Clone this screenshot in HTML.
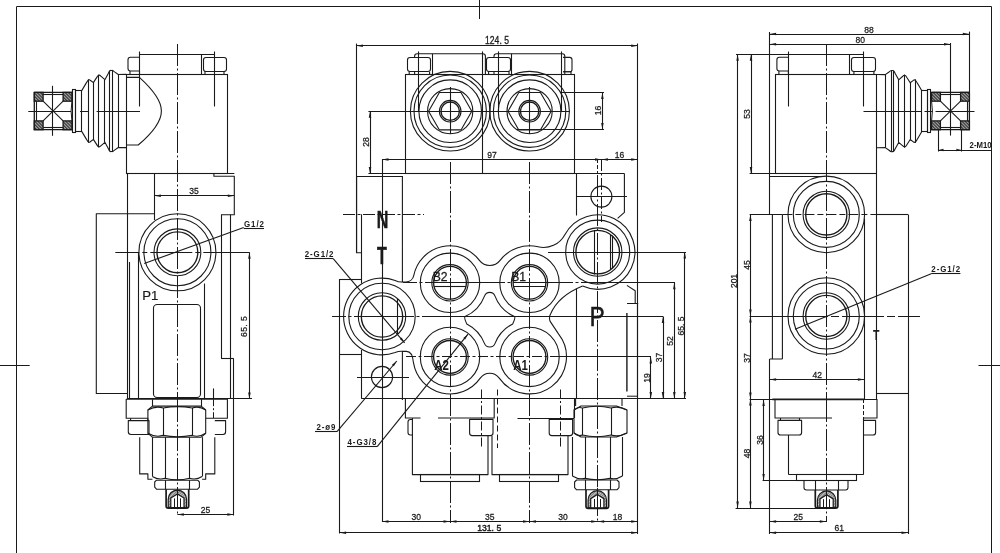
<!DOCTYPE html>
<html><head><meta charset="utf-8"><title>Valve drawing</title>
<style>
html,body{margin:0;padding:0;background:#fff;}
svg{display:block;font-family:"Liberation Sans",sans-serif;will-change:transform;}
</style></head>
<body>
<svg width="1000" height="553" viewBox="0 0 1000 553">
<defs>
<pattern id="hatch" width="2.2" height="2.2" patternUnits="userSpaceOnUse" patternTransform="rotate(-45)">
<rect width="2.2" height="2.2" fill="#999"/><line x1="0" y1="0" x2="0" y2="2.2" stroke="#151515" stroke-width="1.5"/>
</pattern>
<pattern id="hatch2" width="2" height="2" patternUnits="userSpaceOnUse" patternTransform="rotate(45)">
<rect width="2" height="2" fill="#c8c8c8"/><line x1="0" y1="0" x2="0" y2="2" stroke="#333" stroke-width="1.0"/>
</pattern>
</defs>
<rect width="1000" height="553" fill="#fff"/>
<line x1="16.90" y1="6.50" x2="991.40" y2="6.50" stroke="#1a1a1a" stroke-width="1.0"/>
<line x1="16.50" y1="6.40" x2="16.50" y2="553.00" stroke="#1a1a1a" stroke-width="1.0"/>
<line x1="991.50" y1="6.40" x2="991.50" y2="553.00" stroke="#1a1a1a" stroke-width="1.0"/>
<line x1="479.50" y1="0.00" x2="479.50" y2="19.00" stroke="#1a1a1a" stroke-width="1.0"/>
<line x1="0.00" y1="365.50" x2="29.70" y2="365.50" stroke="#1a1a1a" stroke-width="1.0"/>
<line x1="978.50" y1="365.50" x2="1000.00" y2="365.50" stroke="#1a1a1a" stroke-width="1.0"/>
<rect x="126.50" y="74.50" width="101.00" height="99.00" rx="0" ry="0" fill="none" stroke="#1a1a1a" stroke-width="1.1"/>
<line x1="139.50" y1="54.50" x2="214.70" y2="54.50" stroke="#1a1a1a" stroke-width="1.1"/>
<line x1="139.50" y1="51.50" x2="139.50" y2="106.50" stroke="#1a1a1a" stroke-width="1.1"/>
<line x1="214.50" y1="51.50" x2="214.50" y2="106.50" stroke="#1a1a1a" stroke-width="1.1"/>
<line x1="201.50" y1="54.20" x2="201.50" y2="74.50" stroke="#1a1a1a" stroke-width="1.1"/>
<path d="M139.5,57.3 H130.5 Q128.0,57.3 128.0,59.8 V68.5 Q128.0,71 130.5,71 H139.5" fill="none" stroke="#1a1a1a" stroke-width="1.1" stroke-linejoin="round"/>
<path d="M130.0,71 V74.5 M139.5,71 V74.5" fill="none" stroke="#1a1a1a" stroke-width="1.1" stroke-linejoin="round"/>
<rect x="203.50" y="57.50" width="23.00" height="14.00" rx="2.5" ry="2.5" fill="none" stroke="#1a1a1a" stroke-width="1.1"/>
<path d="M205.0,71 V74.5 M224.0,71 V74.5" fill="none" stroke="#1a1a1a" stroke-width="1.1" stroke-linejoin="round"/>
<line x1="177.50" y1="44.00" x2="177.50" y2="400.00" stroke="#1a1a1a" stroke-width="1.0" stroke-dasharray="22 2.5 2 2.5"/>
<path d="M126.2,77.4 H139.4 C150,87 161.4,100 161.4,110.9 C161.4,122 150,135 138.2,145 H126.2" fill="none" stroke="#1a1a1a" stroke-width="1.1" stroke-linejoin="round"/>
<path d="M126.20,74.40 L118.30,74.50 L114.54,71.86 Q112.60,70.00 111.72,70.47 L110.88,70.43 Q110.00,69.90 108.27,73.56 L104.90,79.70 L100.81,76.14 Q98.70,73.80 96.90,77.12 L93.40,82.60 L90.23,80.22 Q88.60,78.50 86.32,82.88 L81.90,90.40 " fill="none" stroke="#1a1a1a" stroke-width="1.1" stroke-linejoin="round"/>
<path d="M126.20,147.60 L118.30,147.50 L114.54,150.14 Q112.60,152.00 111.72,151.53 L110.88,151.57 Q110.00,152.10 108.27,148.44 L104.90,142.30 L100.81,145.86 Q98.70,148.20 96.90,144.88 L93.40,139.40 L90.23,141.78 Q88.60,143.50 86.32,139.12 L81.90,131.60 " fill="none" stroke="#1a1a1a" stroke-width="1.1" stroke-linejoin="round"/>
<line x1="118.50" y1="74.50" x2="118.50" y2="147.50" stroke="#1a1a1a" stroke-width="1.1"/>
<line x1="112.50" y1="70.80" x2="112.50" y2="151.20" stroke="#1a1a1a" stroke-width="1.1"/>
<line x1="109.50" y1="70.80" x2="109.50" y2="151.20" stroke="#1a1a1a" stroke-width="1.1"/>
<line x1="104.50" y1="79.70" x2="104.50" y2="142.30" stroke="#1a1a1a" stroke-width="1.1"/>
<line x1="98.50" y1="74.60" x2="98.50" y2="147.40" stroke="#1a1a1a" stroke-width="1.1"/>
<line x1="93.50" y1="82.60" x2="93.50" y2="139.40" stroke="#1a1a1a" stroke-width="1.1"/>
<line x1="88.50" y1="79.30" x2="88.50" y2="142.70" stroke="#1a1a1a" stroke-width="1.1"/>
<rect x="75.50" y="90.50" width="6.00" height="41.00" rx="0" ry="0" fill="none" stroke="#1a1a1a" stroke-width="1.1"/>
<rect x="72.50" y="89.50" width="3.00" height="43.00" rx="0" ry="0" fill="none" stroke="#1a1a1a" stroke-width="1.1"/>
<path d="M71.9,92.4 H34.3 V129.7 H71.9" fill="none" stroke="#1a1a1a" stroke-width="1.3" stroke-linejoin="round"/>
<path d="M71.9,101.2 Q70.30000000000001,111.05 71.9,120.89999999999999" fill="none" stroke="#1a1a1a" stroke-width="1.0" stroke-linejoin="round"/>
<line x1="36.50" y1="101.20" x2="36.50" y2="120.90" stroke="#1a1a1a" stroke-width="1.1"/>
<rect x="34.30" y="92.40" width="8.80" height="8.80" fill="url(#hatch)" stroke="#1a1a1a" stroke-width="1.3"/>
<rect x="63.10" y="92.40" width="8.80" height="8.80" fill="url(#hatch)" stroke="#1a1a1a" stroke-width="1.3"/>
<rect x="34.30" y="120.90" width="8.80" height="8.80" fill="url(#hatch)" stroke="#1a1a1a" stroke-width="1.3"/>
<rect x="63.10" y="120.90" width="8.80" height="8.80" fill="url(#hatch)" stroke="#1a1a1a" stroke-width="1.3"/>
<line x1="43.10" y1="101.20" x2="63.10" y2="120.90" stroke="#1a1a1a" stroke-width="1.1"/>
<line x1="63.10" y1="101.20" x2="43.10" y2="120.90" stroke="#1a1a1a" stroke-width="1.1"/>
<line x1="43.10" y1="94.50" x2="63.10" y2="94.50" stroke="#1a1a1a" stroke-width="1.1"/>
<line x1="43.10" y1="127.50" x2="63.10" y2="127.50" stroke="#1a1a1a" stroke-width="1.1"/>
<line x1="28.30" y1="111.50" x2="140.00" y2="111.50" stroke="#1a1a1a" stroke-width="1.0" stroke-dasharray="42.7 9 8.3 8.3 100"/>
<line x1="52.50" y1="85.80" x2="52.50" y2="135.80" stroke="#1a1a1a" stroke-width="1.1"/>
<line x1="126.20" y1="173.50" x2="234.30" y2="173.50" stroke="#1a1a1a" stroke-width="1.1"/>
<line x1="127.50" y1="173.70" x2="127.50" y2="399.20" stroke="#1a1a1a" stroke-width="1.1"/>
<line x1="154.50" y1="173.70" x2="154.50" y2="220.00" stroke="#1a1a1a" stroke-width="1.1"/>
<path d="M213.9,173.7 V176.3 H234.3 V214.7 H221.1" fill="none" stroke="#1a1a1a" stroke-width="1.1" stroke-linejoin="round"/>
<line x1="154.40" y1="195.50" x2="234.30" y2="195.50" stroke="#1a1a1a" stroke-width="1.1"/>
<polygon points="154.40,195.70 160.90,194.45 160.90,196.95" fill="#1a1a1a"/>
<polygon points="234.30,195.70 227.80,196.95 227.80,194.45" fill="#1a1a1a"/>
<text transform="translate(194.00 193.80) scale(0.95 1)" font-size="9.0" text-anchor="middle" font-weight="normal" fill="#1a1a1a" stroke="#1a1a1a" stroke-width="0.25">35</text>
<path d="M154.4,213.8 H96.3 V393.5 H127.4" fill="none" stroke="#1a1a1a" stroke-width="1.1" stroke-linejoin="round"/>
<line x1="221.50" y1="214.70" x2="221.50" y2="358.60" stroke="#1a1a1a" stroke-width="1.1"/>
<line x1="221.10" y1="358.50" x2="233.80" y2="358.50" stroke="#1a1a1a" stroke-width="1.1"/>
<line x1="233.50" y1="358.60" x2="233.50" y2="515.50" stroke="#1a1a1a" stroke-width="1.1"/>
<line x1="230.50" y1="214.70" x2="230.50" y2="398.90" stroke="#1a1a1a" stroke-width="1.1"/>
<circle cx="177.40" cy="252.30" r="38.50" fill="none" stroke="#1a1a1a" stroke-width="1.1"/>
<circle cx="177.40" cy="252.30" r="33.50" fill="none" stroke="#1a1a1a" stroke-width="1.1"/>
<circle cx="177.40" cy="252.30" r="23.40" fill="none" stroke="#1a1a1a" stroke-width="1.1"/>
<circle cx="177.40" cy="252.30" r="20.40" fill="none" stroke="#1a1a1a" stroke-width="1.35"/>
<line x1="115.30" y1="252.50" x2="249.50" y2="252.50" stroke="#1a1a1a" stroke-width="1.0" stroke-dasharray="24 3 5 3 42 3 5 3 200"/>
<line x1="138.50" y1="252.30" x2="138.50" y2="399.20" stroke="#1a1a1a" stroke-width="1.1"/>
<line x1="204.50" y1="283.50" x2="204.50" y2="399.20" stroke="#1a1a1a" stroke-width="1.1"/>
<line x1="144.20" y1="263.50" x2="243.70" y2="227.60" stroke="#1a1a1a" stroke-width="1.1"/>
<line x1="243.70" y1="228.50" x2="264.00" y2="228.50" stroke="#1a1a1a" stroke-width="1.1"/>
<text transform="translate(254.40 227.20) scale(0.92 1)" font-size="8.6" text-anchor="middle" font-weight="bold" fill="#1a1a1a" letter-spacing="1.0">G1/2</text>
<text transform="translate(150.20 299.80)" font-size="13.2" text-anchor="middle" font-weight="normal" fill="#1a1a1a" stroke="#1a1a1a" stroke-width="0.2">P1</text>
<line x1="129.50" y1="262.00" x2="129.50" y2="399.20" stroke="#1a1a1a" stroke-width="1.1"/>
<rect x="153.50" y="304.50" width="47.00" height="93.00" rx="3.6" ry="3.6" fill="none" stroke="#1a1a1a" stroke-width="1.1"/>
<line x1="249.50" y1="252.30" x2="249.50" y2="398.90" stroke="#1a1a1a" stroke-width="1.1"/>
<polygon points="249.40,252.30 250.65,258.80 248.15,258.80" fill="#1a1a1a"/>
<polygon points="249.40,398.90 248.15,392.40 250.65,392.40" fill="#1a1a1a"/>
<text transform="translate(247.20 326.40) rotate(-90) scale(0.95 1)" font-size="9.0" text-anchor="middle" font-weight="normal" fill="#1a1a1a" letter-spacing="0.5" stroke="#1a1a1a" stroke-width="0.25">65. 5</text>
<line x1="127.40" y1="398.50" x2="252.00" y2="398.50" stroke="#1a1a1a" stroke-width="1.1"/>
<path d="M147.9,418.2 H126.2 V399.2 H227.4 V418.2 H205.7" fill="none" stroke="#1a1a1a" stroke-width="1.1" stroke-linejoin="round"/>
<line x1="213.50" y1="388.40" x2="213.50" y2="399.20" stroke="#1a1a1a" stroke-width="1.1"/>
<line x1="213.50" y1="399.20" x2="213.50" y2="418.00" stroke="#1a1a1a" stroke-width="1.0" stroke-dasharray="7 2 2 2"/>
<line x1="177.50" y1="400.00" x2="177.50" y2="516.00" stroke="#1a1a1a" stroke-width="1.0" stroke-dasharray="22 2.5 2 2.5"/>
<line x1="177.40" y1="514.50" x2="233.80" y2="514.50" stroke="#1a1a1a" stroke-width="1.1"/>
<polygon points="177.40,514.60 183.90,513.35 183.90,515.85" fill="#1a1a1a"/>
<polygon points="233.80,514.60 227.30,515.85 227.30,513.35" fill="#1a1a1a"/>
<text transform="translate(205.40 513.40) scale(0.95 1)" font-size="9.0" text-anchor="middle" font-weight="normal" fill="#1a1a1a" stroke="#1a1a1a" stroke-width="0.25">25</text>
<path d="M130.6,418.2 V420.6 M147.9,418.2 V420.6 M128.3,420.6 H149 V434.5 H131 Q128.3,434.5 128.3,431.8 Z" fill="none" stroke="#1a1a1a" stroke-width="1.1" stroke-linejoin="round"/>
<path d="M214.8,420.6 H225.6 V431.8 Q225.6,434.5 223,434.5 H214.8" fill="none" stroke="#1a1a1a" stroke-width="1.1" stroke-linejoin="round"/>
<line x1="152.50" y1="399.20" x2="152.50" y2="406.10" stroke="#1a1a1a" stroke-width="1.1"/>
<line x1="201.50" y1="399.20" x2="201.50" y2="406.10" stroke="#1a1a1a" stroke-width="1.1"/>
<path d="M152.4,406.1 H201.2 L205.7,410 V433.3 L201.2,437.2 H152.4 L147.9,433.3 V410 Z" fill="none" stroke="#1a1a1a" stroke-width="1.1" stroke-linejoin="round"/>
<line x1="163.50" y1="408.00" x2="163.50" y2="435.40" stroke="#1a1a1a" stroke-width="1.1"/>
<line x1="192.50" y1="408.00" x2="192.50" y2="435.40" stroke="#1a1a1a" stroke-width="1.1"/>
<path d="M147.9,410 Q155.5,405.6 163.2,408 Q177.4,405.2 192.2,408 Q199.0,405.6 205.7,410" fill="none" stroke="#1a1a1a" stroke-width="1.1" stroke-linejoin="round"/>
<path d="M147.9,433.3 Q155.5,437.7 163.2,435.4 Q177.4,438.2 192.2,435.4 Q199.0,437.7 205.7,433.3" fill="none" stroke="#1a1a1a" stroke-width="1.1" stroke-linejoin="round"/>
<path d="M139.7,437.2 V473.9 H147.9 V479.3 H152.4" fill="none" stroke="#1a1a1a" stroke-width="1.1" stroke-linejoin="round"/>
<path d="M214.8,437.2 V473.9 H205.7 V479.3 H202.1" fill="none" stroke="#1a1a1a" stroke-width="1.1" stroke-linejoin="round"/>
<line x1="152.50" y1="437.20" x2="152.50" y2="476.50" stroke="#1a1a1a" stroke-width="1.1"/>
<line x1="165.50" y1="437.20" x2="165.50" y2="478.20" stroke="#1a1a1a" stroke-width="1.1"/>
<line x1="189.50" y1="437.20" x2="189.50" y2="478.20" stroke="#1a1a1a" stroke-width="1.1"/>
<line x1="202.50" y1="437.20" x2="202.50" y2="476.50" stroke="#1a1a1a" stroke-width="1.1"/>
<path d="M152.4,476.5 Q158.5,480.4 165.0,478.2 Q177.4,481.4 189.5,478.2 Q196.0,480.4 202.1,476.5" fill="none" stroke="#1a1a1a" stroke-width="1.1" stroke-linejoin="round"/>
<path d="M156.5,480.2 H197.6 L199.4,482 V487.2 L197.6,489.2 H156.5 L154.7,487.2 V482 Z" fill="none" stroke="#1a1a1a" stroke-width="1.1" stroke-linejoin="round"/>
<line x1="165.50" y1="480.20" x2="165.50" y2="489.20" stroke="#1a1a1a" stroke-width="1.1"/>
<line x1="189.50" y1="480.20" x2="189.50" y2="489.20" stroke="#1a1a1a" stroke-width="1.1"/>
<path d="M166.1,489.2 V506.0 Q166.1,508.2 168.29999999999998,508.2 H186.50000000000003 Q188.70000000000002,508.2 188.70000000000002,506.0 V489.2" fill="none" stroke="#1a1a1a" stroke-width="1.7" stroke-linejoin="round"/>
<path d="M168.20000000000002,507.4 V499.29999999999995 A9.2,9.2 0 0 1 186.6,499.29999999999995 V507.4 Z" fill="url(#hatch2)" stroke="#1a1a1a" stroke-width="1.2"/>
<path d="M170.8,507.59999999999997 V498.09999999999997 L177.4,493.9 L184.0,498.09999999999997 V507.59999999999997 Z" fill="#fff" stroke="#1a1a1a" stroke-width="1.2"/>
<line x1="174.50" y1="498.40" x2="174.50" y2="507.40" stroke="#1a1a1a" stroke-width="1.0"/>
<line x1="180.50" y1="498.40" x2="180.50" y2="507.40" stroke="#1a1a1a" stroke-width="1.0"/>
<line x1="177.50" y1="487.20" x2="177.50" y2="509.20" stroke="#1a1a1a" stroke-width="1.0"/>
<rect x="775.50" y="74.50" width="101.00" height="99.00" rx="0" ry="0" fill="none" stroke="#1a1a1a" stroke-width="1.1"/>
<line x1="788.40" y1="54.50" x2="863.60" y2="54.50" stroke="#1a1a1a" stroke-width="1.1"/>
<line x1="788.50" y1="51.50" x2="788.50" y2="106.50" stroke="#1a1a1a" stroke-width="1.1"/>
<line x1="863.50" y1="51.50" x2="863.50" y2="106.50" stroke="#1a1a1a" stroke-width="1.1"/>
<line x1="849.50" y1="54.20" x2="849.50" y2="74.50" stroke="#1a1a1a" stroke-width="1.1"/>
<path d="M788.4,57.3 H779.4 Q776.9,57.3 776.9,59.8 V68.5 Q776.9,71 779.4,71 H788.4" fill="none" stroke="#1a1a1a" stroke-width="1.1" stroke-linejoin="round"/>
<path d="M778.9,71 V74.5 M788.4,71 V74.5" fill="none" stroke="#1a1a1a" stroke-width="1.1" stroke-linejoin="round"/>
<rect x="851.50" y="57.50" width="24.00" height="14.00" rx="2.5" ry="2.5" fill="none" stroke="#1a1a1a" stroke-width="1.1"/>
<path d="M853.9,71 V74.5 M873.9,71 V74.5" fill="none" stroke="#1a1a1a" stroke-width="1.1" stroke-linejoin="round"/>
<line x1="826.50" y1="44.00" x2="826.50" y2="400.00" stroke="#1a1a1a" stroke-width="1.0" stroke-dasharray="22 2.5 2 2.5"/>
<path d="M876.90,74.50 L885.30,74.60 L889.06,71.96 Q891.00,70.10 891.88,70.57 L892.72,70.53 Q893.60,70.00 895.33,73.66 L898.70,79.80 L902.79,76.24 Q904.90,73.90 906.70,77.22 L910.20,82.70 L913.37,80.32 Q915.00,78.60 917.28,82.98 L921.70,90.50 " fill="none" stroke="#1a1a1a" stroke-width="1.1" stroke-linejoin="round"/>
<path d="M876.90,147.70 L885.30,147.60 L889.06,150.24 Q891.00,152.10 891.88,151.63 L892.72,151.67 Q893.60,152.20 895.33,148.54 L898.70,142.40 L902.79,145.96 Q904.90,148.30 906.70,144.98 L910.20,139.50 L913.37,141.88 Q915.00,143.60 917.28,139.22 L921.70,131.70 " fill="none" stroke="#1a1a1a" stroke-width="1.1" stroke-linejoin="round"/>
<line x1="885.50" y1="74.50" x2="885.50" y2="147.70" stroke="#1a1a1a" stroke-width="1.1"/>
<line x1="891.50" y1="70.80" x2="891.50" y2="151.40" stroke="#1a1a1a" stroke-width="1.1"/>
<line x1="893.50" y1="70.80" x2="893.50" y2="151.40" stroke="#1a1a1a" stroke-width="1.1"/>
<line x1="898.50" y1="79.70" x2="898.50" y2="142.50" stroke="#1a1a1a" stroke-width="1.1"/>
<line x1="904.50" y1="74.60" x2="904.50" y2="147.60" stroke="#1a1a1a" stroke-width="1.1"/>
<line x1="910.50" y1="82.60" x2="910.50" y2="139.60" stroke="#1a1a1a" stroke-width="1.1"/>
<line x1="915.50" y1="79.30" x2="915.50" y2="142.90" stroke="#1a1a1a" stroke-width="1.1"/>
<rect x="921.50" y="90.50" width="6.00" height="41.00" rx="0" ry="0" fill="none" stroke="#1a1a1a" stroke-width="1.1"/>
<rect x="927.50" y="89.50" width="3.00" height="43.00" rx="0" ry="0" fill="none" stroke="#1a1a1a" stroke-width="1.1"/>
<path d="M931.6,92.4 H969.4 V129.7 H931.6" fill="none" stroke="#1a1a1a" stroke-width="1.3" stroke-linejoin="round"/>
<path d="M931.6,101.2 Q933.2,111.05 931.6,120.89999999999999" fill="none" stroke="#1a1a1a" stroke-width="1.0" stroke-linejoin="round"/>
<line x1="967.50" y1="101.20" x2="967.50" y2="120.90" stroke="#1a1a1a" stroke-width="1.1"/>
<rect x="931.60" y="92.40" width="8.80" height="8.80" fill="url(#hatch)" stroke="#1a1a1a" stroke-width="1.3"/>
<rect x="960.60" y="92.40" width="8.80" height="8.80" fill="url(#hatch)" stroke="#1a1a1a" stroke-width="1.3"/>
<rect x="931.60" y="120.90" width="8.80" height="8.80" fill="url(#hatch)" stroke="#1a1a1a" stroke-width="1.3"/>
<rect x="960.60" y="120.90" width="8.80" height="8.80" fill="url(#hatch)" stroke="#1a1a1a" stroke-width="1.3"/>
<line x1="940.40" y1="101.20" x2="960.60" y2="120.90" stroke="#1a1a1a" stroke-width="1.1"/>
<line x1="960.60" y1="101.20" x2="940.40" y2="120.90" stroke="#1a1a1a" stroke-width="1.1"/>
<line x1="940.40" y1="94.50" x2="960.60" y2="94.50" stroke="#1a1a1a" stroke-width="1.1"/>
<line x1="940.40" y1="127.50" x2="960.60" y2="127.50" stroke="#1a1a1a" stroke-width="1.1"/>
<line x1="863.50" y1="111.50" x2="974.50" y2="111.50" stroke="#1a1a1a" stroke-width="1.0" stroke-dasharray="58 3 8 3 100"/>
<line x1="769.50" y1="32.00" x2="769.50" y2="214.40" stroke="#1a1a1a" stroke-width="1.1"/>
<line x1="769.60" y1="34.50" x2="969.30" y2="34.50" stroke="#1a1a1a" stroke-width="1.1"/>
<polygon points="769.60,34.00 776.10,32.75 776.10,35.25" fill="#1a1a1a"/>
<polygon points="969.30,34.00 962.80,35.25 962.80,32.75" fill="#1a1a1a"/>
<line x1="769.60" y1="44.50" x2="950.50" y2="44.50" stroke="#1a1a1a" stroke-width="1.1"/>
<polygon points="769.60,44.20 776.10,42.95 776.10,45.45" fill="#1a1a1a"/>
<polygon points="950.50,44.20 944.00,45.45 944.00,42.95" fill="#1a1a1a"/>
<text transform="translate(869.00 32.80) scale(0.95 1)" font-size="9.0" text-anchor="middle" font-weight="normal" fill="#1a1a1a" stroke="#1a1a1a" stroke-width="0.25">88</text>
<text transform="translate(860.30 43.20) scale(0.95 1)" font-size="9.0" text-anchor="middle" font-weight="normal" fill="#1a1a1a" stroke="#1a1a1a" stroke-width="0.25">80</text>
<line x1="969.50" y1="31.60" x2="969.50" y2="92.60" stroke="#1a1a1a" stroke-width="1.1"/>
<line x1="950.50" y1="43.00" x2="950.50" y2="135.60" stroke="#1a1a1a" stroke-width="1.1"/>
<line x1="938.50" y1="129.70" x2="938.50" y2="151.50" stroke="#1a1a1a" stroke-width="1.1"/>
<line x1="961.50" y1="129.70" x2="961.50" y2="151.50" stroke="#1a1a1a" stroke-width="1.1"/>
<line x1="938.50" y1="150.50" x2="991.40" y2="150.50" stroke="#1a1a1a" stroke-width="1.1"/>
<polygon points="938.50,150.00 943.50,148.75 943.50,151.25" fill="#1a1a1a"/>
<polygon points="961.40,150.00 956.40,151.25 956.40,148.75" fill="#1a1a1a"/>
<text transform="translate(969.60 148.40) scale(0.9 1)" font-size="8.6" text-anchor="start" font-weight="bold" fill="#1a1a1a">2-M10</text>
<line x1="736.00" y1="54.50" x2="788.40" y2="54.50" stroke="#1a1a1a" stroke-width="1.1"/>
<line x1="737.50" y1="54.20" x2="737.50" y2="508.00" stroke="#1a1a1a" stroke-width="1.1"/>
<polygon points="737.60,54.20 738.85,60.70 736.35,60.70" fill="#1a1a1a"/>
<polygon points="737.60,508.00 736.35,501.50 738.85,501.50" fill="#1a1a1a"/>
<line x1="751.50" y1="54.20" x2="751.50" y2="173.50" stroke="#1a1a1a" stroke-width="1.1"/>
<polygon points="751.00,54.20 752.25,60.70 749.75,60.70" fill="#1a1a1a"/>
<polygon points="751.00,173.50 749.75,167.00 752.25,167.00" fill="#1a1a1a"/>
<text transform="translate(750.00 114.00) rotate(-90) scale(0.95 1)" font-size="9.0" text-anchor="middle" font-weight="normal" fill="#1a1a1a" stroke="#1a1a1a" stroke-width="0.25">53</text>
<text transform="translate(737.00 281.00) rotate(-90) scale(0.95 1)" font-size="9.0" text-anchor="middle" font-weight="normal" fill="#1a1a1a" stroke="#1a1a1a" stroke-width="0.25">201</text>
<line x1="749.60" y1="173.50" x2="876.30" y2="173.50" stroke="#1a1a1a" stroke-width="1.1"/>
<line x1="750.50" y1="214.40" x2="750.50" y2="508.00" stroke="#1a1a1a" stroke-width="1.1"/>
<polygon points="750.40,214.40 751.65,220.90 749.15,220.90" fill="#1a1a1a"/>
<polygon points="750.40,316.00 749.15,309.50 751.65,309.50" fill="#1a1a1a"/>
<polygon points="750.40,316.00 751.65,322.50 749.15,322.50" fill="#1a1a1a"/>
<polygon points="750.40,399.00 749.15,392.50 751.65,392.50" fill="#1a1a1a"/>
<polygon points="750.40,399.00 751.65,405.50 749.15,405.50" fill="#1a1a1a"/>
<polygon points="750.40,508.00 749.15,501.50 751.65,501.50" fill="#1a1a1a"/>
<text transform="translate(749.60 265.00) rotate(-90) scale(0.95 1)" font-size="9.0" text-anchor="middle" font-weight="normal" fill="#1a1a1a" stroke="#1a1a1a" stroke-width="0.25">45</text>
<text transform="translate(749.60 358.00) rotate(-90) scale(0.95 1)" font-size="9.0" text-anchor="middle" font-weight="normal" fill="#1a1a1a" stroke="#1a1a1a" stroke-width="0.25">37</text>
<text transform="translate(749.60 453.60) rotate(-90) scale(0.95 1)" font-size="9.0" text-anchor="middle" font-weight="normal" fill="#1a1a1a" stroke="#1a1a1a" stroke-width="0.25">48</text>
<line x1="763.50" y1="399.60" x2="763.50" y2="480.60" stroke="#1a1a1a" stroke-width="1.1"/>
<polygon points="763.60,399.60 764.85,406.10 762.35,406.10" fill="#1a1a1a"/>
<polygon points="763.60,480.60 762.35,474.10 764.85,474.10" fill="#1a1a1a"/>
<text transform="translate(763.00 440.00) rotate(-90) scale(0.95 1)" font-size="9.0" text-anchor="middle" font-weight="normal" fill="#1a1a1a" stroke="#1a1a1a" stroke-width="0.25">36</text>
<line x1="762.60" y1="480.50" x2="796.60" y2="480.50" stroke="#1a1a1a" stroke-width="1.1"/>
<line x1="735.60" y1="508.50" x2="826.30" y2="508.50" stroke="#1a1a1a" stroke-width="1.1"/>
<line x1="769.60" y1="176.50" x2="822.00" y2="176.50" stroke="#1a1a1a" stroke-width="1.1"/>
<line x1="876.50" y1="173.50" x2="876.50" y2="399.00" stroke="#1a1a1a" stroke-width="1.1"/>
<circle cx="826.30" cy="214.40" r="38.30" fill="none" stroke="#1a1a1a" stroke-width="1.1"/>
<circle cx="826.30" cy="214.40" r="33.00" fill="none" stroke="#1a1a1a" stroke-width="1.1"/>
<circle cx="826.30" cy="214.40" r="23.20" fill="none" stroke="#1a1a1a" stroke-width="1.1"/>
<circle cx="826.30" cy="214.40" r="20.60" fill="none" stroke="#1a1a1a" stroke-width="1.35"/>
<circle cx="826.30" cy="316.00" r="38.30" fill="none" stroke="#1a1a1a" stroke-width="1.1"/>
<circle cx="826.30" cy="316.00" r="33.00" fill="none" stroke="#1a1a1a" stroke-width="1.1"/>
<circle cx="826.30" cy="316.00" r="23.20" fill="none" stroke="#1a1a1a" stroke-width="1.1"/>
<circle cx="826.30" cy="316.00" r="20.60" fill="none" stroke="#1a1a1a" stroke-width="1.35"/>
<line x1="749.60" y1="214.50" x2="782.40" y2="214.50" stroke="#1a1a1a" stroke-width="1.1"/>
<line x1="782.40" y1="214.50" x2="876.00" y2="214.50" stroke="#1a1a1a" stroke-width="1.0" stroke-dasharray="10 3 6 3"/>
<line x1="876.00" y1="214.50" x2="908.00" y2="214.50" stroke="#1a1a1a" stroke-width="1.1"/>
<line x1="749.60" y1="316.50" x2="788.00" y2="316.50" stroke="#1a1a1a" stroke-width="1.1"/>
<line x1="788.00" y1="316.50" x2="920.00" y2="316.50" stroke="#1a1a1a" stroke-width="1.0" stroke-dasharray="40 3 8 3 42 3 8 3 30 3 8 3"/>
<path d="M772.4,214.4 V359 M782.4,214.4 V359 M769.6,359 H782.4" fill="none" stroke="#1a1a1a" stroke-width="1.1" stroke-linejoin="round"/>
<line x1="769.50" y1="359.00" x2="769.50" y2="534.00" stroke="#1a1a1a" stroke-width="1.1"/>
<line x1="864.50" y1="218.50" x2="864.50" y2="399.00" stroke="#1a1a1a" stroke-width="1.1"/>
<line x1="908.50" y1="214.40" x2="908.50" y2="534.00" stroke="#1a1a1a" stroke-width="1.1"/>
<line x1="876.00" y1="393.50" x2="908.00" y2="393.50" stroke="#1a1a1a" stroke-width="1.1"/>
<line x1="769.60" y1="379.50" x2="864.40" y2="379.50" stroke="#1a1a1a" stroke-width="1.1"/>
<polygon points="769.60,379.60 776.10,378.35 776.10,380.85" fill="#1a1a1a"/>
<polygon points="864.40,379.60 857.90,380.85 857.90,378.35" fill="#1a1a1a"/>
<text transform="translate(817.20 378.00) scale(0.95 1)" font-size="9.0" text-anchor="middle" font-weight="normal" fill="#1a1a1a" stroke="#1a1a1a" stroke-width="0.25">42</text>
<text transform="translate(876.20 340.20) scale(0.75 1)" font-size="14" text-anchor="middle" font-weight="bold" fill="#1a1a1a">T</text>
<line x1="795.00" y1="329.20" x2="931.20" y2="273.80" stroke="#1a1a1a" stroke-width="1.1"/>
<line x1="931.20" y1="273.50" x2="960.40" y2="273.50" stroke="#1a1a1a" stroke-width="1.1"/>
<text transform="translate(946.20 272.40) scale(0.92 1)" font-size="8.6" text-anchor="middle" font-weight="bold" fill="#1a1a1a" letter-spacing="1.0">2-G1/2</text>
<line x1="749.60" y1="399.50" x2="877.00" y2="399.50" stroke="#1a1a1a" stroke-width="1.1"/>
<line x1="772.40" y1="399.30" x2="864.40" y2="399.30" stroke="#1a1a1a" stroke-width="1.7"/>
<path d="M775,399 V418 H832 M864,418 H877 V399" fill="none" stroke="#1a1a1a" stroke-width="1.1" stroke-linejoin="round"/>
<line x1="863.50" y1="399.00" x2="863.50" y2="418.00" stroke="#1a1a1a" stroke-width="1.0" stroke-dasharray="4 2"/>
<line x1="863.50" y1="418.00" x2="863.50" y2="474.60" stroke="#1a1a1a" stroke-width="1.1"/>
<line x1="788.50" y1="435.00" x2="788.50" y2="474.60" stroke="#1a1a1a" stroke-width="1.1"/>
<line x1="788.60" y1="474.50" x2="863.60" y2="474.50" stroke="#1a1a1a" stroke-width="1.1"/>
<path d="M780.5,418 V420.4 M799.5,418 V420.4 M778,420.4 H801.6 V432.4 Q801.6,435 799,435 H780.6 Q778,435 778,432.4 Z" fill="none" stroke="#1a1a1a" stroke-width="1.1" stroke-linejoin="round"/>
<path d="M864,420.4 H875.6 V432.4 Q875.6,435 873,435 H864" fill="none" stroke="#1a1a1a" stroke-width="1.1" stroke-linejoin="round"/>
<rect x="796.50" y="474.50" width="60.00" height="6.00" rx="0" ry="0" fill="none" stroke="#1a1a1a" stroke-width="1.1"/>
<path d="M804,480.6 V487.5 Q804,490 806.5,490 H845.5 Q848,490 848,487.5 V480.6" fill="none" stroke="#1a1a1a" stroke-width="1.1" stroke-linejoin="round"/>
<line x1="815.50" y1="480.60" x2="815.50" y2="490.00" stroke="#1a1a1a" stroke-width="1.1"/>
<line x1="838.50" y1="480.60" x2="838.50" y2="490.00" stroke="#1a1a1a" stroke-width="1.1"/>
<path d="M815.3,490 V506.0 Q815.3,508.2 817.5,508.2 H835.6999999999998 Q837.8999999999999,508.2 837.8999999999999,506.0 V490" fill="none" stroke="#1a1a1a" stroke-width="1.7" stroke-linejoin="round"/>
<path d="M817.3999999999999,507.4 V500.09999999999997 A9.2,9.2 0 0 1 835.8,500.09999999999997 V507.4 Z" fill="url(#hatch2)" stroke="#1a1a1a" stroke-width="1.2"/>
<path d="M819.9999999999999,507.59999999999997 V498.9 L826.5999999999999,494.7 L833.1999999999999,498.9 V507.59999999999997 Z" fill="#fff" stroke="#1a1a1a" stroke-width="1.2"/>
<line x1="823.50" y1="499.20" x2="823.50" y2="507.40" stroke="#1a1a1a" stroke-width="1.0"/>
<line x1="829.50" y1="499.20" x2="829.50" y2="507.40" stroke="#1a1a1a" stroke-width="1.0"/>
<line x1="826.50" y1="488.00" x2="826.50" y2="509.20" stroke="#1a1a1a" stroke-width="1.0"/>
<line x1="826.50" y1="400.00" x2="826.50" y2="522.00" stroke="#1a1a1a" stroke-width="1.0" stroke-dasharray="22 2.5 2 2.5"/>
<line x1="769.60" y1="521.50" x2="826.30" y2="521.50" stroke="#1a1a1a" stroke-width="1.1"/>
<polygon points="769.60,521.40 776.10,520.15 776.10,522.65" fill="#1a1a1a"/>
<polygon points="826.30,521.40 819.80,522.65 819.80,520.15" fill="#1a1a1a"/>
<text transform="translate(798.30 520.00) scale(0.95 1)" font-size="9.0" text-anchor="middle" font-weight="normal" fill="#1a1a1a" stroke="#1a1a1a" stroke-width="0.25">25</text>
<line x1="769.60" y1="532.50" x2="908.00" y2="532.50" stroke="#1a1a1a" stroke-width="1.1"/>
<polygon points="769.60,532.80 776.10,531.55 776.10,534.05" fill="#1a1a1a"/>
<polygon points="908.00,532.80 901.50,534.05 901.50,531.55" fill="#1a1a1a"/>
<text transform="translate(839.30 531.00) scale(0.95 1)" font-size="9.0" text-anchor="middle" font-weight="normal" fill="#1a1a1a" stroke="#1a1a1a" stroke-width="0.25">61</text>
<line x1="356.40" y1="45.50" x2="637.70" y2="45.50" stroke="#1a1a1a" stroke-width="1.1"/>
<polygon points="356.40,45.70 362.90,44.45 362.90,46.95" fill="#1a1a1a"/>
<polygon points="637.70,45.70 631.20,46.95 631.20,44.45" fill="#1a1a1a"/>
<text transform="translate(497.00 44.00) scale(0.86 1)" font-size="10" text-anchor="middle" font-weight="normal" fill="#1a1a1a" stroke="#1a1a1a" stroke-width="0.3">124. 5</text>
<line x1="356.50" y1="43.60" x2="356.50" y2="252.80" stroke="#1a1a1a" stroke-width="1.1"/>
<line x1="637.50" y1="43.60" x2="637.50" y2="534.00" stroke="#1a1a1a" stroke-width="1.1"/>
<path d="M414.6,74.2 V56.3 Q414.6,53.8 417.1,53.8 H482.9 Q485.4,53.8 485.4,56.3 V74.2" fill="none" stroke="#1a1a1a" stroke-width="1.1" stroke-linejoin="round"/>
<line x1="432.50" y1="53.80" x2="432.50" y2="74.20" stroke="#1a1a1a" stroke-width="1.1"/>
<rect x="407.50" y="57.50" width="23.00" height="14.00" rx="2.5" ry="2.5" fill="#fff" stroke="#1a1a1a" stroke-width="1.1"/>
<path d="M409.2,71.8 V74.2 M429.6,71.8 V74.2" fill="none" stroke="#1a1a1a" stroke-width="1.1" stroke-linejoin="round"/>
<path d="M494.0,74.2 V56.3 Q494.0,53.8 496.5,53.8 H562.3 Q564.8,53.8 564.8,56.3 V74.2" fill="none" stroke="#1a1a1a" stroke-width="1.1" stroke-linejoin="round"/>
<line x1="511.50" y1="53.80" x2="511.50" y2="74.20" stroke="#1a1a1a" stroke-width="1.1"/>
<rect x="486.50" y="57.50" width="24.00" height="14.00" rx="2.5" ry="2.5" fill="#fff" stroke="#1a1a1a" stroke-width="1.1"/>
<path d="M488.6,71.8 V74.2 M509.0,71.8 V74.2" fill="none" stroke="#1a1a1a" stroke-width="1.1" stroke-linejoin="round"/>
<path d="M563,57.4 H569.6 Q572,57.4 572,59.8 V69.4 Q572,71.8 569.6,71.8 H563" fill="none" stroke="#1a1a1a" stroke-width="1.1" stroke-linejoin="round"/>
<path d="M563,71.8 H571 V74.2" fill="none" stroke="#1a1a1a" stroke-width="1.1" stroke-linejoin="round"/>
<line x1="418.50" y1="51.40" x2="418.50" y2="111.20" stroke="#1a1a1a" stroke-width="1.1"/>
<line x1="482.50" y1="51.40" x2="482.50" y2="173.40" stroke="#1a1a1a" stroke-width="1.1"/>
<line x1="498.50" y1="51.40" x2="498.50" y2="111.20" stroke="#1a1a1a" stroke-width="1.1"/>
<line x1="561.50" y1="51.40" x2="561.50" y2="111.20" stroke="#1a1a1a" stroke-width="1.1"/>
<rect x="405.50" y="74.50" width="169.00" height="99.00" rx="0" ry="0" fill="none" stroke="#1a1a1a" stroke-width="1.1"/>
<circle cx="450.20" cy="111.20" r="39.80" fill="none" stroke="#1a1a1a" stroke-width="1.1"/>
<circle cx="450.20" cy="111.20" r="36.20" fill="none" stroke="#1a1a1a" stroke-width="1.1"/>
<circle cx="450.20" cy="111.20" r="31.30" fill="none" stroke="#1a1a1a" stroke-width="1.1"/>
<circle cx="450.20" cy="111.20" r="22.60" fill="none" stroke="#1a1a1a" stroke-width="1.1"/>
<circle cx="450.20" cy="111.20" r="10.80" fill="none" stroke="#1a1a1a" stroke-width="1.1"/>
<circle cx="450.20" cy="111.20" r="9.20" fill="none" stroke="#1a1a1a" stroke-width="1.4"/>
<path d="M471.80,111.20 L461.00,129.91 L439.40,129.91 L428.60,111.20 L439.40,92.49 L461.00,92.49 Z" fill="none" stroke="#1a1a1a" stroke-width="1.1" stroke-linejoin="round"/>
<line x1="450.50" y1="87.00" x2="450.50" y2="134.00" stroke="#1a1a1a" stroke-width="1.1"/>
<circle cx="529.60" cy="111.20" r="39.80" fill="none" stroke="#1a1a1a" stroke-width="1.1"/>
<circle cx="529.60" cy="111.20" r="36.20" fill="none" stroke="#1a1a1a" stroke-width="1.1"/>
<circle cx="529.60" cy="111.20" r="31.30" fill="none" stroke="#1a1a1a" stroke-width="1.1"/>
<circle cx="529.60" cy="111.20" r="22.60" fill="none" stroke="#1a1a1a" stroke-width="1.1"/>
<circle cx="529.60" cy="111.20" r="10.80" fill="none" stroke="#1a1a1a" stroke-width="1.1"/>
<circle cx="529.60" cy="111.20" r="9.20" fill="none" stroke="#1a1a1a" stroke-width="1.4"/>
<path d="M551.20,111.20 L540.40,129.91 L518.80,129.91 L508.00,111.20 L518.80,92.49 L540.40,92.49 Z" fill="none" stroke="#1a1a1a" stroke-width="1.1" stroke-linejoin="round"/>
<line x1="529.50" y1="87.00" x2="529.50" y2="134.00" stroke="#1a1a1a" stroke-width="1.1"/>
<line x1="368.40" y1="111.50" x2="569.50" y2="111.50" stroke="#1a1a1a" stroke-width="1.1"/>
<line x1="370.50" y1="111.20" x2="370.50" y2="173.40" stroke="#1a1a1a" stroke-width="1.1"/>
<polygon points="370.00,111.20 371.25,117.70 368.75,117.70" fill="#1a1a1a"/>
<polygon points="370.00,173.40 368.75,166.90 371.25,166.90" fill="#1a1a1a"/>
<text transform="translate(369.20 142.00) rotate(-90) scale(0.95 1)" font-size="9.0" text-anchor="middle" font-weight="normal" fill="#1a1a1a" stroke="#1a1a1a" stroke-width="0.25">28</text>
<line x1="368.40" y1="173.50" x2="624.40" y2="173.50" stroke="#1a1a1a" stroke-width="1.1"/>
<line x1="561.40" y1="92.50" x2="604.00" y2="92.50" stroke="#1a1a1a" stroke-width="1.1"/>
<line x1="516.00" y1="129.50" x2="604.00" y2="129.50" stroke="#1a1a1a" stroke-width="1.1"/>
<line x1="602.50" y1="92.40" x2="602.50" y2="129.40" stroke="#1a1a1a" stroke-width="1.1"/>
<polygon points="602.40,92.40 603.65,98.90 601.15,98.90" fill="#1a1a1a"/>
<polygon points="602.40,129.40 601.15,122.90 603.65,122.90" fill="#1a1a1a"/>
<text transform="translate(601.40 110.50) rotate(-90) scale(0.95 1)" font-size="9.0" text-anchor="middle" font-weight="normal" fill="#1a1a1a" stroke="#1a1a1a" stroke-width="0.25">16</text>
<line x1="382.00" y1="159.50" x2="637.70" y2="159.50" stroke="#1a1a1a" stroke-width="1.1"/>
<polygon points="382.00,159.60 388.50,158.35 388.50,160.85" fill="#1a1a1a"/>
<polygon points="601.50,159.60 595.00,160.85 595.00,158.35" fill="#1a1a1a"/>
<polygon points="601.50,159.60 608.00,158.35 608.00,160.85" fill="#1a1a1a"/>
<polygon points="637.70,159.60 631.20,160.85 631.20,158.35" fill="#1a1a1a"/>
<text transform="translate(492.00 158.40) scale(0.95 1)" font-size="9.0" text-anchor="middle" font-weight="normal" fill="#1a1a1a" stroke="#1a1a1a" stroke-width="0.25">97</text>
<text transform="translate(619.60 158.40) scale(0.95 1)" font-size="9.0" text-anchor="middle" font-weight="normal" fill="#1a1a1a" stroke="#1a1a1a" stroke-width="0.25">16</text>
<line x1="382.50" y1="159.00" x2="382.50" y2="522.00" stroke="#1a1a1a" stroke-width="1.1"/>
<line x1="597.50" y1="159.00" x2="597.50" y2="173.40" stroke="#1a1a1a" stroke-width="1.0" stroke-dasharray="4 2"/>
<line x1="450.50" y1="162.00" x2="450.50" y2="523.00" stroke="#1a1a1a" stroke-width="1.0" stroke-dasharray="22 2.5 2 2.5"/>
<line x1="529.50" y1="162.00" x2="529.50" y2="523.00" stroke="#1a1a1a" stroke-width="1.0" stroke-dasharray="22 2.5 2 2.5"/>
<line x1="597.50" y1="175.00" x2="597.50" y2="523.00" stroke="#1a1a1a" stroke-width="1.0" stroke-dasharray="22 2.5 2 2.5"/>
<line x1="601.50" y1="159.00" x2="601.50" y2="222.00" stroke="#1a1a1a" stroke-width="1.0" stroke-dasharray="12 2.5 2 2.5"/>
<line x1="576.50" y1="173.40" x2="576.50" y2="215.50" stroke="#1a1a1a" stroke-width="1.1"/>
<path d="M624.4,173.4 V212.3 L617.6,218.3" fill="none" stroke="#1a1a1a" stroke-width="1.1" stroke-linejoin="round"/>
<circle cx="601.40" cy="196.60" r="10.50" fill="none" stroke="#1a1a1a" stroke-width="1.1"/>
<line x1="576.70" y1="196.50" x2="627.00" y2="196.50" stroke="#1a1a1a" stroke-width="1.1"/>
<line x1="356.50" y1="176.50" x2="402.40" y2="176.50" stroke="#1a1a1a" stroke-width="1.1"/>
<path d="M356.6,176 V252.8 H361.2" fill="none" stroke="#1a1a1a" stroke-width="1.1" stroke-linejoin="round"/>
<line x1="361.50" y1="214.30" x2="361.50" y2="283.50" stroke="#1a1a1a" stroke-width="1.1"/>
<line x1="361.50" y1="350.00" x2="361.50" y2="398.40" stroke="#1a1a1a" stroke-width="1.1"/>
<line x1="339.60" y1="279.50" x2="361.20" y2="279.50" stroke="#1a1a1a" stroke-width="1.1"/>
<line x1="339.60" y1="354.50" x2="361.20" y2="354.50" stroke="#1a1a1a" stroke-width="1.1"/>
<line x1="339.50" y1="279.00" x2="339.50" y2="533.50" stroke="#1a1a1a" stroke-width="1.1"/>
<line x1="343.00" y1="214.50" x2="424.00" y2="214.50" stroke="#1a1a1a" stroke-width="1.0" stroke-dasharray="12 2.5 3 2.5"/>
<text transform="translate(382.60 228.30) scale(0.68 1)" font-size="23.6" text-anchor="middle" font-weight="bold" fill="#1a1a1a" stroke="#1a1a1a" stroke-width="0.5">N</text>
<text transform="translate(381.80 264.40) scale(0.68 1)" font-size="23.6" text-anchor="middle" font-weight="bold" fill="#1a1a1a" stroke="#1a1a1a" stroke-width="0.5">T</text>
<text transform="translate(319.60 257.20) scale(0.92 1)" font-size="8.6" text-anchor="middle" font-weight="bold" fill="#1a1a1a" letter-spacing="1.0">2-G1/2</text>
<line x1="305.00" y1="258.50" x2="333.20" y2="258.50" stroke="#1a1a1a" stroke-width="1.1"/>
<line x1="333.20" y1="258.60" x2="404.60" y2="342.80" stroke="#1a1a1a" stroke-width="1.1"/>
<polygon points="404.60,342.80 399.81,338.99 401.64,337.44" fill="#1a1a1a"/>
<path d="M402.4,282 Q399,282.4 395.13,280.42 A38.4,38.4 0 1 0 395.13,352.58 Q399,351 402.4,351.3" fill="none" stroke="#1a1a1a" stroke-width="1.1" stroke-linejoin="round"/>
<circle cx="382.00" cy="316.50" r="33.20" fill="none" stroke="#1a1a1a" stroke-width="1.1"/>
<circle cx="382.00" cy="316.50" r="23.70" fill="none" stroke="#1a1a1a" stroke-width="1.1"/>
<circle cx="382.00" cy="316.50" r="20.70" fill="none" stroke="#1a1a1a" stroke-width="1.35"/>
<line x1="397.50" y1="299.00" x2="397.50" y2="334.40" stroke="#1a1a1a" stroke-width="1.1"/>
<line x1="332.00" y1="316.50" x2="425.00" y2="316.50" stroke="#1a1a1a" stroke-width="1.0" stroke-dasharray="14 2.5 3 2.5 60 2.5 3 2.5"/>
<line x1="425.00" y1="316.50" x2="663.00" y2="316.50" stroke="#1a1a1a" stroke-width="1.1"/>
<circle cx="597.70" cy="252.10" r="32.00" fill="none" stroke="#1a1a1a" stroke-width="1.1"/>
<circle cx="597.70" cy="252.10" r="24.20" fill="none" stroke="#1a1a1a" stroke-width="1.1"/>
<circle cx="597.70" cy="252.10" r="21.80" fill="none" stroke="#1a1a1a" stroke-width="1.35"/>
<line x1="594.50" y1="230.00" x2="594.50" y2="274.50" stroke="#1a1a1a" stroke-width="1.1"/>
<line x1="610.50" y1="235.00" x2="610.50" y2="269.00" stroke="#1a1a1a" stroke-width="1.1"/>
<line x1="612.50" y1="235.50" x2="612.50" y2="268.50" stroke="#1a1a1a" stroke-width="1.1"/>
<line x1="548.00" y1="252.50" x2="686.00" y2="252.50" stroke="#1a1a1a" stroke-width="1.1"/>
<circle cx="450.00" cy="282.80" r="29.70" fill="none" stroke="#1a1a1a" stroke-width="1.1"/>
<circle cx="450.00" cy="282.80" r="18.20" fill="none" stroke="#1a1a1a" stroke-width="1.1"/>
<circle cx="450.00" cy="282.80" r="16.40" fill="none" stroke="#1a1a1a" stroke-width="1.35"/>
<circle cx="529.50" cy="282.80" r="29.70" fill="none" stroke="#1a1a1a" stroke-width="1.1"/>
<circle cx="529.50" cy="282.80" r="18.20" fill="none" stroke="#1a1a1a" stroke-width="1.1"/>
<circle cx="529.50" cy="282.80" r="16.40" fill="none" stroke="#1a1a1a" stroke-width="1.35"/>
<circle cx="450.00" cy="356.90" r="29.70" fill="none" stroke="#1a1a1a" stroke-width="1.1"/>
<circle cx="450.00" cy="356.90" r="18.20" fill="none" stroke="#1a1a1a" stroke-width="1.1"/>
<circle cx="450.00" cy="356.90" r="16.40" fill="none" stroke="#1a1a1a" stroke-width="1.35"/>
<circle cx="529.50" cy="356.90" r="29.70" fill="none" stroke="#1a1a1a" stroke-width="1.1"/>
<circle cx="529.50" cy="356.90" r="18.20" fill="none" stroke="#1a1a1a" stroke-width="1.1"/>
<circle cx="529.50" cy="356.90" r="16.40" fill="none" stroke="#1a1a1a" stroke-width="1.35"/>
<line x1="434.00" y1="286.50" x2="466.00" y2="286.50" stroke="#1a1a1a" stroke-width="1.1"/>
<line x1="513.50" y1="286.50" x2="545.50" y2="286.50" stroke="#1a1a1a" stroke-width="1.1"/>
<line x1="403.00" y1="282.50" x2="675.00" y2="282.50" stroke="#1a1a1a" stroke-width="1.0" stroke-dasharray="14 2.5 3 2.5 80 2.5 3 2.5 60 2.5 3 2.5 400"/>
<line x1="406.00" y1="356.50" x2="560.00" y2="356.50" stroke="#1a1a1a" stroke-width="1.0" stroke-dasharray="10 2.5 3 2.5"/>
<line x1="560.00" y1="356.50" x2="651.00" y2="356.50" stroke="#1a1a1a" stroke-width="1.1"/>
<text transform="translate(440.20 280.60) scale(0.92 1)" font-size="13.2" text-anchor="middle" font-weight="normal" fill="#1a1a1a" stroke="#1a1a1a" stroke-width="0.3">B2</text>
<text transform="translate(518.60 280.60) scale(0.92 1)" font-size="13.2" text-anchor="middle" font-weight="normal" fill="#1a1a1a" stroke="#1a1a1a" stroke-width="0.3">B1</text>
<text transform="translate(441.50 370.20) scale(0.82 1)" font-size="14" text-anchor="middle" font-weight="bold" fill="#1a1a1a">A2</text>
<text transform="translate(520.50 370.20) scale(0.82 1)" font-size="14" text-anchor="middle" font-weight="bold" fill="#1a1a1a">A1</text>
<path d="M402.4,176 V282.0 H405.87 A8.0,8.0 0 0 0 413.71,275.56 A37.0,37.0 0 0 1 479.42,260.36 A13,13 0 0 0 500.08,260.36 A37.0,37.0 0 0 1 538.06,246.80 A24,24 0 0 0 564.83,234.69 A37.2,37.2 0 1 1 582.57,286.08" fill="none" stroke="#1a1a1a" stroke-width="1.1" stroke-linejoin="round"/>
<path d="M402.4,400 V351.4 H406.5 Q412.5,351.4 413.46,362.69 A37.0,37.0 0 0 0 480.26,378.19 A11.6,11.6 0 0 1 499.24,378.19 A37.0,37.0 0 1 0 558.66,334.12 L550.0,321.1 Q548.8,317.6 550.3,314.6 Q558,296 582.57,286.08" fill="none" stroke="#1a1a1a" stroke-width="1.1" stroke-linejoin="round"/>
<path d="M484.61,295.89 A5.5,5.5 0 0 1 494.89,295.89 A37.0,37.0 0 0 0 514.45,316.60 Q515.8,317.8 512.70,323.93 A37.0,37.0 0 0 0 495.06,343.39 A5.7,5.7 0 0 1 484.44,343.39 A37.0,37.0 0 0 0 466.80,323.93 Q463.8,317.8 465.05,316.60 A37.0,37.0 0 0 0 484.61,295.89 Z" fill="none" stroke="#1a1a1a" stroke-width="1.1" stroke-linejoin="round"/>
<line x1="576.50" y1="288.80" x2="576.50" y2="399.00" stroke="#1a1a1a" stroke-width="1.1"/>
<line x1="361.20" y1="398.50" x2="686.00" y2="398.50" stroke="#1a1a1a" stroke-width="1.1"/>
<circle cx="382.00" cy="377.00" r="10.60" fill="none" stroke="#1a1a1a" stroke-width="1.1"/>
<line x1="357.00" y1="377.50" x2="409.00" y2="377.50" stroke="#1a1a1a" stroke-width="1.1"/>
<text transform="translate(326.40 430.40) scale(0.92 1)" font-size="8.6" text-anchor="middle" font-weight="bold" fill="#1a1a1a" letter-spacing="1.0">2-&#248;9</text>
<line x1="315.00" y1="431.50" x2="337.00" y2="431.50" stroke="#1a1a1a" stroke-width="1.1"/>
<line x1="337.00" y1="431.60" x2="396.80" y2="361.00" stroke="#1a1a1a" stroke-width="1.1"/>
<polygon points="396.80,361.00 393.83,366.35 392.00,364.80" fill="#1a1a1a"/>
<text transform="translate(362.40 445.40) scale(0.92 1)" font-size="8.6" text-anchor="middle" font-weight="bold" fill="#1a1a1a" letter-spacing="1.0">4-G3/8</text>
<line x1="347.00" y1="446.50" x2="377.20" y2="446.50" stroke="#1a1a1a" stroke-width="1.1"/>
<line x1="377.20" y1="446.60" x2="468.00" y2="334.20" stroke="#1a1a1a" stroke-width="1.1"/>
<polygon points="468.00,334.20 465.16,339.62 463.29,338.11" fill="#1a1a1a"/>
<text transform="translate(597.20 326.00) scale(0.78 1)" font-size="28.5" text-anchor="middle" font-weight="normal" fill="#1a1a1a" stroke="#1a1a1a" stroke-width="0.7">P</text>
<path d="M626.9,285.4 L635.2,290.8 V303.4 M627,303.5 H638.2" fill="none" stroke="#1a1a1a" stroke-width="1.1" stroke-linejoin="round"/>
<line x1="637.50" y1="303.50" x2="637.50" y2="397.60" stroke="#1a1a1a" stroke-width="1.1"/>
<line x1="626.90" y1="313.00" x2="626.90" y2="391.40" stroke="#1a1a1a" stroke-width="1.4"/>
<path d="M627,396.2 H637.6" fill="none" stroke="#1a1a1a" stroke-width="1.0" stroke-linejoin="round"/>
<line x1="684.50" y1="252.10" x2="684.50" y2="398.60" stroke="#1a1a1a" stroke-width="1.1"/>
<polygon points="684.80,252.10 686.05,258.60 683.55,258.60" fill="#1a1a1a"/>
<polygon points="684.80,398.60 683.55,392.10 686.05,392.10" fill="#1a1a1a"/>
<line x1="674.50" y1="282.80" x2="674.50" y2="398.60" stroke="#1a1a1a" stroke-width="1.1"/>
<polygon points="674.30,282.80 675.55,289.30 673.05,289.30" fill="#1a1a1a"/>
<polygon points="674.30,398.60 673.05,392.10 675.55,392.10" fill="#1a1a1a"/>
<line x1="663.50" y1="316.50" x2="663.50" y2="398.60" stroke="#1a1a1a" stroke-width="1.1"/>
<polygon points="663.00,316.50 664.25,323.00 661.75,323.00" fill="#1a1a1a"/>
<polygon points="663.00,398.60 661.75,392.10 664.25,392.10" fill="#1a1a1a"/>
<line x1="650.50" y1="356.90" x2="650.50" y2="398.60" stroke="#1a1a1a" stroke-width="1.1"/>
<polygon points="650.80,356.90 652.05,363.40 649.55,363.40" fill="#1a1a1a"/>
<polygon points="650.80,398.60 649.55,392.10 652.05,392.10" fill="#1a1a1a"/>
<text transform="translate(683.60 326.00) rotate(-90) scale(0.95 1)" font-size="9.0" text-anchor="middle" font-weight="normal" fill="#1a1a1a" stroke="#1a1a1a" stroke-width="0.25">65. 5</text>
<text transform="translate(673.40 341.00) rotate(-90) scale(0.95 1)" font-size="9.0" text-anchor="middle" font-weight="normal" fill="#1a1a1a" stroke="#1a1a1a" stroke-width="0.25">52</text>
<text transform="translate(662.00 357.60) rotate(-90) scale(0.95 1)" font-size="9.0" text-anchor="middle" font-weight="normal" fill="#1a1a1a" stroke="#1a1a1a" stroke-width="0.25">37</text>
<text transform="translate(649.60 378.00) rotate(-90) scale(0.95 1)" font-size="9.0" text-anchor="middle" font-weight="normal" fill="#1a1a1a" stroke="#1a1a1a" stroke-width="0.25">19</text>
<path d="M405.4,399 V418 H420.5 M438,418 H494.2 V399" fill="none" stroke="#1a1a1a" stroke-width="1.1" stroke-linejoin="round"/>
<line x1="517.50" y1="418.50" x2="574.00" y2="418.50" stroke="#1a1a1a" stroke-width="1.1"/>
<line x1="574.50" y1="399.00" x2="574.50" y2="418.00" stroke="#1a1a1a" stroke-width="1.1"/>
<path d="M412.4,418 V474.6 H488 V436" fill="none" stroke="#1a1a1a" stroke-width="1.1" stroke-linejoin="round"/>
<path d="M492,436 V474.6 H568 V435.6" fill="none" stroke="#1a1a1a" stroke-width="1.1" stroke-linejoin="round"/>
<rect x="420.50" y="474.50" width="59.00" height="7.00" rx="0" ry="0" fill="none" stroke="#1a1a1a" stroke-width="1.1"/>
<rect x="499.50" y="474.50" width="59.00" height="7.00" rx="0" ry="0" fill="none" stroke="#1a1a1a" stroke-width="1.1"/>
<path d="M412.4,419.5 H410.4 Q408,419.5 408,422 V432.6 Q408,435 410.4,435 H412.4" fill="none" stroke="#1a1a1a" stroke-width="1.1" stroke-linejoin="round"/>
<path d="M469.6,419.4 H493 V433 Q493,435.6 490.4,435.6 H472.2 Q469.6,435.6 469.6,433 Z" fill="none" stroke="#1a1a1a" stroke-width="1.1" stroke-linejoin="round"/>
<line x1="481.50" y1="389.50" x2="481.50" y2="448.00" stroke="#1a1a1a" stroke-width="1.0" stroke-dasharray="9 2.5 2 2.5"/>
<path d="M549.2,419.4 H572.6 V433 Q572.6,435.6 570.0,435.6 H551.8 Q549.2,435.6 549.2,433 Z" fill="none" stroke="#1a1a1a" stroke-width="1.1" stroke-linejoin="round"/>
<line x1="560.50" y1="389.50" x2="560.50" y2="448.00" stroke="#1a1a1a" stroke-width="1.0" stroke-dasharray="9 2.5 2 2.5"/>
<line x1="497.50" y1="389.50" x2="497.50" y2="448.00" stroke="#1a1a1a" stroke-width="1.0" stroke-dasharray="6 3"/>
<path d="M575.6,399 V406 M622.0,399 V406" fill="none" stroke="#1a1a1a" stroke-width="1.1" stroke-linejoin="round"/>
<path d="M581.0,406 H616.5 L627.0,410 V433 L616.5,437 H581.0 L574.0,433 V410 Z" fill="none" stroke="#1a1a1a" stroke-width="1.1" stroke-linejoin="round"/>
<line x1="582.50" y1="408.00" x2="582.50" y2="435.00" stroke="#1a1a1a" stroke-width="1.1"/>
<line x1="611.50" y1="408.00" x2="611.50" y2="435.00" stroke="#1a1a1a" stroke-width="1.1"/>
<path d="M574.0,410 Q578.0,406.4 582.4,408 Q596.7,404.4 611.0,408 Q619.0,405.6 627.0,410" fill="none" stroke="#1a1a1a" stroke-width="1.1" stroke-linejoin="round"/>
<path d="M574.0,433 Q578.0,436.6 582.4,435 Q596.7,438.6 611.0,435 Q619.0,437.4 627.0,433" fill="none" stroke="#1a1a1a" stroke-width="1.1" stroke-linejoin="round"/>
<line x1="572.50" y1="437.00" x2="572.50" y2="476.00" stroke="#1a1a1a" stroke-width="1.1"/>
<line x1="585.50" y1="437.00" x2="585.50" y2="478.40" stroke="#1a1a1a" stroke-width="1.1"/>
<line x1="610.50" y1="437.00" x2="610.50" y2="478.40" stroke="#1a1a1a" stroke-width="1.1"/>
<line x1="622.50" y1="437.00" x2="622.50" y2="476.00" stroke="#1a1a1a" stroke-width="1.1"/>
<path d="M572.4,476 Q578.5,479.8 585.0,478.4 Q597.5,481.2 610.0,478.4 Q616.5,479.8 622.4,476" fill="none" stroke="#1a1a1a" stroke-width="1.1" stroke-linejoin="round"/>
<path d="M576.6,480 H617.0 L619.0,482 V487.6 L617.0,489.8 H576.6 L574.6,487.6 V482 Z" fill="none" stroke="#1a1a1a" stroke-width="1.1" stroke-linejoin="round"/>
<line x1="585.50" y1="480.00" x2="585.50" y2="489.80" stroke="#1a1a1a" stroke-width="1.1"/>
<line x1="610.50" y1="480.00" x2="610.50" y2="489.80" stroke="#1a1a1a" stroke-width="1.1"/>
<path d="M586.0000000000001,489.8 V506.2 Q586.0000000000001,508.4 588.2000000000002,508.4 H606.4 Q608.6,508.4 608.6,506.2 V489.8" fill="none" stroke="#1a1a1a" stroke-width="1.7" stroke-linejoin="round"/>
<path d="M588.1,507.59999999999997 V499.9 A9.2,9.2 0 0 1 606.5000000000001,499.9 V507.59999999999997 Z" fill="url(#hatch2)" stroke="#1a1a1a" stroke-width="1.2"/>
<path d="M590.7,507.79999999999995 V498.7 L597.3000000000001,494.5 L603.9000000000001,498.7 V507.79999999999995 Z" fill="#fff" stroke="#1a1a1a" stroke-width="1.2"/>
<line x1="594.50" y1="499.00" x2="594.50" y2="507.60" stroke="#1a1a1a" stroke-width="1.0"/>
<line x1="600.50" y1="499.00" x2="600.50" y2="507.60" stroke="#1a1a1a" stroke-width="1.0"/>
<line x1="597.50" y1="487.80" x2="597.50" y2="509.40" stroke="#1a1a1a" stroke-width="1.0"/>
<line x1="382.00" y1="521.50" x2="637.70" y2="521.50" stroke="#1a1a1a" stroke-width="1.1"/>
<polygon points="382.00,521.50 388.50,520.25 388.50,522.75" fill="#1a1a1a"/>
<polygon points="450.00,521.50 456.50,520.25 456.50,522.75" fill="#1a1a1a"/>
<polygon points="529.50,521.50 536.00,520.25 536.00,522.75" fill="#1a1a1a"/>
<polygon points="597.70,521.50 604.20,520.25 604.20,522.75" fill="#1a1a1a"/>
<polygon points="450.00,521.50 443.50,522.75 443.50,520.25" fill="#1a1a1a"/>
<polygon points="529.50,521.50 523.00,522.75 523.00,520.25" fill="#1a1a1a"/>
<polygon points="597.70,521.50 591.20,522.75 591.20,520.25" fill="#1a1a1a"/>
<polygon points="637.70,521.50 631.20,522.75 631.20,520.25" fill="#1a1a1a"/>
<text transform="translate(416.30 520.20) scale(0.95 1)" font-size="9.0" text-anchor="middle" font-weight="normal" fill="#1a1a1a" stroke="#1a1a1a" stroke-width="0.25">30</text>
<text transform="translate(489.80 520.20) scale(0.95 1)" font-size="9.0" text-anchor="middle" font-weight="normal" fill="#1a1a1a" stroke="#1a1a1a" stroke-width="0.25">35</text>
<text transform="translate(563.00 520.20) scale(0.95 1)" font-size="9.0" text-anchor="middle" font-weight="normal" fill="#1a1a1a" stroke="#1a1a1a" stroke-width="0.25">30</text>
<text transform="translate(617.60 520.20) scale(0.95 1)" font-size="9.0" text-anchor="middle" font-weight="normal" fill="#1a1a1a" stroke="#1a1a1a" stroke-width="0.25">18</text>
<line x1="339.60" y1="532.50" x2="637.70" y2="532.50" stroke="#1a1a1a" stroke-width="1.1"/>
<polygon points="339.60,532.80 346.10,531.55 346.10,534.05" fill="#1a1a1a"/>
<polygon points="637.70,532.80 631.20,534.05 631.20,531.55" fill="#1a1a1a"/>
<text transform="translate(489.20 530.80) scale(0.9 1)" font-size="9.6" text-anchor="middle" font-weight="normal" fill="#1a1a1a" stroke="#1a1a1a" stroke-width="0.45">131. 5</text>
</svg>
</body></html>
